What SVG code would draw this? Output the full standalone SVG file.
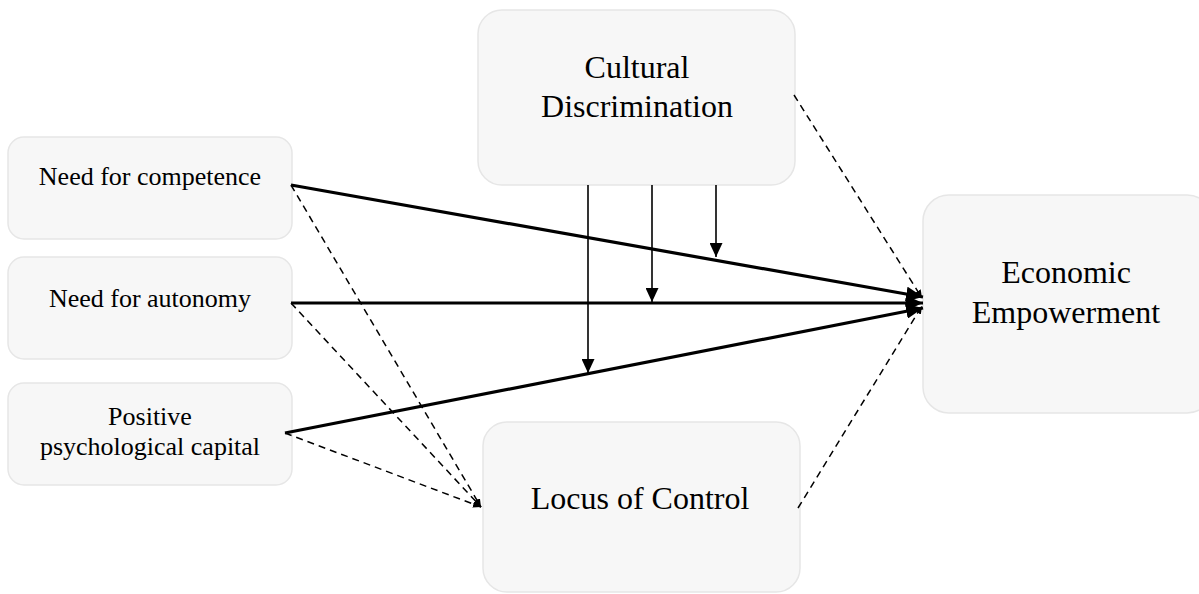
<svg xmlns="http://www.w3.org/2000/svg" width="1199" height="594" viewBox="0 0 1199 594">
<style>
.box{fill:#f7f7f7;stroke:#e6e6e6;stroke-width:1.5}
.t{font-family:"Liberation Serif","Times New Roman",serif;fill:#000;text-anchor:middle}
.s{font-size:26px}
.b{font-size:32px}
.thick{stroke:#000;stroke-width:3.2;fill:none;marker-end:url(#ah)}
.mod{stroke:#000;stroke-width:1.6;fill:none;marker-end:url(#am)}
.dash{stroke:#000;stroke-width:1.5;fill:none;stroke-dasharray:7 5}
.dashA{stroke:#000;stroke-width:1.5;fill:none;stroke-dasharray:7 5;marker-end:url(#ad)}
</style>
<defs>
<marker id="ah" markerUnits="userSpaceOnUse" markerWidth="17" markerHeight="15" refX="17" refY="7.5" orient="auto"><path d="M0,0 L17,7.5 L0,15 z" fill="#000"/></marker>
<marker id="am" markerUnits="userSpaceOnUse" markerWidth="14" markerHeight="13" refX="14" refY="6.5" orient="auto"><path d="M0,0 L14,6.5 L0,13 z" fill="#000"/></marker>
<marker id="ad" markerUnits="userSpaceOnUse" markerWidth="8" markerHeight="7" refX="8" refY="3.5" orient="auto"><path d="M0,0 L8,3.5 L0,7 z" fill="#000"/></marker>
</defs>
<rect width="1199" height="594" fill="#fff"/>
<g id="n-competence"><rect class="box" x="8" y="137" width="284" height="102" rx="16"/><text class="t s" x="150" y="185">Need for competence</text></g>
<g id="n-autonomy"><rect class="box" x="8" y="257" width="284" height="102" rx="16"/><text class="t s" x="150" y="307">Need for autonomy</text></g>
<g id="n-capital"><rect class="box" x="8" y="383" width="284" height="102" rx="16"/><text class="t s" x="150" y="425">Positive</text><text class="t s" x="150" y="455">psychological capital</text></g>
<g id="n-cultural"><rect class="box" x="478" y="10" width="317" height="175" rx="24"/><text class="t b" x="637" y="78">Cultural</text><text class="t b" x="637" y="117">Discrimination</text></g>
<g id="n-locus"><rect class="box" x="483" y="422" width="317" height="170" rx="24"/><text class="t b" x="640" y="509">Locus of Control</text></g>
<g id="n-economic"><rect class="box" x="923" y="195" width="290" height="218" rx="26"/><text class="t b" x="1066" y="283">Economic</text><text class="t b" x="1066" y="323">Empowerment</text></g>
<g id="connectors">
<line class="thick" x1="291" y1="185" x2="923" y2="297"/>
<line class="thick" x1="291" y1="303" x2="923" y2="303"/>
<line class="thick" x1="285" y1="433" x2="923" y2="308"/>
<line class="mod" x1="588" y1="185" x2="588" y2="373"/>
<line class="mod" x1="652" y1="185" x2="652" y2="302"/>
<line class="mod" x1="716" y1="185" x2="716" y2="257"/>
<line class="dashA" x1="291" y1="185" x2="481" y2="507"/>
<line class="dashA" x1="291" y1="303" x2="481" y2="507"/>
<line class="dashA" x1="285" y1="433" x2="481" y2="507"/>
<line class="dashA" x1="794" y1="95" x2="922" y2="298"/>
<line class="dashA" x1="798" y1="508" x2="922" y2="306"/>
</g>
</svg>
